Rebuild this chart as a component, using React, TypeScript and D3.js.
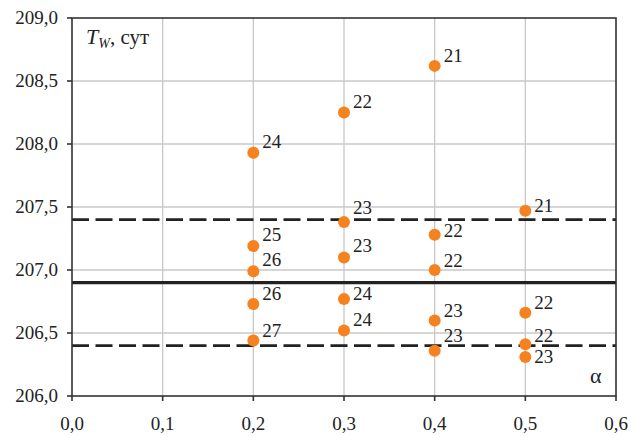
import React from "react";
import * as d3 from "d3";

// α values of each observation
const alphas = [0.2, 0.2, 0.2, 0.2, 0.2, 0.3, 0.3, 0.3, 0.3, 0.3, 0.4, 0.4, 0.4, 0.4, 0.4, 0.5, 0.5, 0.5, 0.5];
// T_W values, days
const tw = [207.93, 207.19, 206.99, 206.73, 206.44, 208.25, 207.38, 207.1, 206.77, 206.52, 208.62, 207.28, 207.0, 206.6, 206.36, 207.47, 206.66, 206.41, 206.31];
// point annotations
const pointLabels = ["24", "25", "26", "26", "27", "22", "23", "23", "24", "24", "21", "22", "22", "23", "23", "21", "22", "22", "23"];
// vertical nudge of each annotation, px
const labelDy = [-5, -5, -5, -4, -4, -5, -8, -5, 1, -4, -4, 2, -3, -3, -9, 1, -4, -2, 6];

const xTicks = [0, 0.1, 0.2, 0.3, 0.4, 0.5, 0.6];
const yTicks = [206, 206.5, 207, 207.5, 208, 208.5, 209];

// reference levels
const meanLevel = 206.9;
const bandLevels = [207.4, 206.4];

const W = 631;
const H = 437;
const left = 72;
const right = 616;
const top = 18;
const bottom = 396;

const fmt = (v: number, d: number) => v.toFixed(d).replace(".", ",");

export default function App() {
  const x = d3.scaleLinear().domain([0, 0.6]).range([left, right]);
  const y = d3.scaleLinear().domain([206, 209]).range([bottom, top]);
  const font = "Liberation Serif, DejaVu Serif, serif";
  const dot = "#F5821F";

  return (
    <svg
      width={W}
      height={H}
      style={{ position: "absolute", left: 0, top: 0, background: "#fff", fontFamily: font }}
    >
      {/* grid */}
      {xTicks.slice(1, -1).map((t) => (
        <line key={"gx" + t} x1={x(t)} x2={x(t)} y1={top} y2={bottom} stroke="#c8c8c8" strokeWidth={1.3} />
      ))}
      {yTicks.slice(1, -1).map((t) => (
        <line key={"gy" + t} x1={left} x2={right} y1={y(t)} y2={y(t)} stroke="#c8c8c8" strokeWidth={1.3} />
      ))}

      {/* reference lines */}
      {bandLevels.map((v) => (
        <line
          key={"b" + v}
          x1={left}
          x2={right}
          y1={y(v)}
          y2={y(v)}
          stroke="#222"
          strokeWidth={2.6}
          strokeDasharray="17 6.5"
        />
      ))}
      <line x1={left} x2={right} y1={y(meanLevel)} y2={y(meanLevel)} stroke="#222" strokeWidth={3.2} />

      {/* frame */}
      <rect x={left} y={top} width={right - left} height={bottom - top} fill="none" stroke="#333" strokeWidth={1.6} />

      {/* ticks and labels */}
      {xTicks.map((t) => (
        <g key={"xt" + t}>
          <line x1={x(t)} x2={x(t)} y1={bottom} y2={bottom + 5} stroke="#333" strokeWidth={1.6} />
          <text x={x(t)} y={430} textAnchor="middle" fontSize={19} fill="#222" style={{ fontFamily: font }}>
            {fmt(t, 1)}
          </text>
        </g>
      ))}
      {yTicks.map((t) => (
        <g key={"yt" + t}>
          <line x1={left - 5} x2={left} y1={y(t)} y2={y(t)} stroke="#333" strokeWidth={1.6} />
          <text x={58} y={y(t) + 6} textAnchor="end" fontSize={19} fill="#222" style={{ fontFamily: font }}>
            {fmt(t, 1)}
          </text>
        </g>
      ))}

      {/* points */}
      {tw.map((v, i) => (
        <g key={"p" + i}>
          <circle cx={x(alphas[i])} cy={y(v)} r={6} fill={dot} />
          <text x={x(alphas[i]) + 9} y={y(v) + labelDy[i]} fontSize={19} fill="#222" style={{ fontFamily: font }}>
            {pointLabels[i]}
          </text>
        </g>
      ))}

      {/* axis titles */}
      <text x={86} y={44} fontSize={22} fill="#222" style={{ fontFamily: font }}>
        <tspan fontStyle="italic">T</tspan>
        <tspan fontStyle="italic" fontSize={14} dy={4}>W</tspan>
        <tspan dy={-4} fontSize={21}>, сут</tspan>
      </text>
      <text x={590} y={383} fontSize={22} fill="#222" style={{ fontFamily: font }}>
        α
      </text>
    </svg>
  );
}
